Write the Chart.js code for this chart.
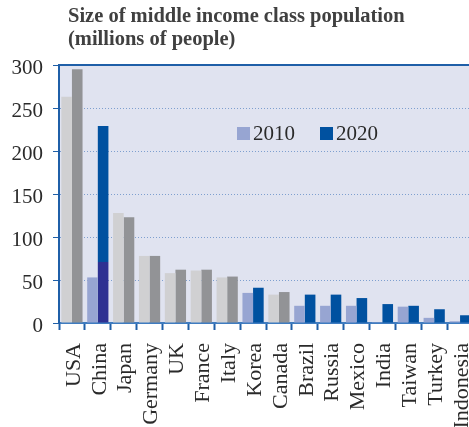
<!DOCTYPE html>
<html>
<head>
<meta charset="utf-8">
<script src="https://cdn.jsdelivr.net/npm/chart.js@4/dist/chart.umd.min.js"></script>
<style>
  html, body { margin: 0; padding: 0; background: #fff; overflow: hidden; }
  #wrap { width: 473px; height: 427px; }
</style>
</head>
<body>
<div id="wrap"><canvas id="chartMiddleClass"></canvas></div>
<script>
var countries = ['USA', 'China', 'Japan', 'Germany', 'UK', 'France', 'Italy', 'Korea',
    'Canada', 'Brazil', 'Russia', 'Mexico', 'India', 'Taiwan', 'Turkey', 'Indonesia'];
var values2010 = [263, 53, 128, 78, 58, 61, 53, 35, 33, 20, 20, 20, 1, 19, 6, 2];
var values2020 = [295, 229, 123, 78, 62, 62, 54, 41, 36, 33, 33, 29, 22, 20, 16, 9];
// lower part of China's 2020 bar is shaded darker in the source
var highlight2020 = [0, 71, 0, 0, 0, 0, 0, 0, 0, 0, 0, 0, 0, 0, 0, 0];
var advanced = ['USA', 'Japan', 'Germany', 'UK', 'France', 'Italy', 'Canada'];
var yTicks = [0, 50, 100, 150, 200, 250, 300];

var serif = '"Liberation Serif", "DejaVu Serif", serif';

function color2010(ctx) {
    return advanced.indexOf(countries[ctx.dataIndex]) >= 0 ? '#d0d0d2' : '#97a5d2';
}
function color2020(ctx) {
    return advanced.indexOf(countries[ctx.dataIndex]) >= 0 ? '#929396' : '#0051a0';
}

var extrasPlugin = {
    id: 'extras',
    beforeDraw: function (chart) {
        var a = chart.chartArea, c = chart.ctx;
        c.save();
        c.fillStyle = '#e0e3f0';
        c.fillRect(a.left, a.top, a.right - a.left, a.bottom - a.top);
        c.restore();
    },
    afterDraw: function (chart) {
        var a = chart.chartArea, c = chart.ctx;
        c.save();
        // top frame line
        c.strokeStyle = '#1f5fa8';
        c.lineWidth = 2;
        c.beginPath();
        c.moveTo(a.left, a.top);
        c.lineTo(a.right, a.top);
        c.stroke();
        // title
        c.fillStyle = '#404040';
        c.font = 'bold 20.5px ' + serif;
        c.textBaseline = 'alphabetic';
        c.textAlign = 'left';
        c.fillText('Size of middle income class population', 68, 22);
        c.fillText('(millions of people)', 68, 45);
        // legend
        var items = [['2010', '#97a5d2', 237], ['2020', '#0051a0', 320]];
        c.font = '21px ' + serif;
        items.forEach(function (it) {
            c.fillStyle = it[1];
            c.fillRect(it[2], 127, 13, 13);
            c.fillStyle = '#2a2a2a';
            c.fillText(it[0], it[2] + 16, 140);
        });
        c.restore();
    }
};

var upper2020 = values2020.map(function (v, i) { return v - highlight2020[i]; });

new Chart(document.getElementById('chartMiddleClass'), {
    type: 'bar',
    data: {
        labels: countries,
        datasets: [{
            label: '2010',
            data: values2010,
            backgroundColor: color2010,
            stack: 's2010'
        }, {
            label: '2020 (lower)',
            data: highlight2020,
            backgroundColor: '#2e3192',
            stack: 's2020'
        }, {
            label: '2020',
            data: upper2020,
            backgroundColor: color2020,
            stack: 's2020'
        }]
    },
    options: {
        responsive: true,
        maintainAspectRatio: false,
        animation: false,
        layout: { padding: { top: 65, right: 0, left: 0, bottom: 0 } },
        datasets: { bar: { categoryPercentage: 0.82, barPercentage: 1.0, borderWidth: 0 } },
        plugins: {
            legend: { display: false },
            tooltip: { enabled: false }
        },
        scales: {
            x: {
                stacked: true,
                grid: {
                    offset: true,
                    drawOnChartArea: false,
                    drawTicks: true,
                    tickLength: 7,
                    tickWidth: 2,
                    tickColor: '#1f5fa8'
                },
                border: { display: true, color: '#3f7cc0', width: 2 },
                ticks: {
                    color: '#2a2a2a',
                    font: { family: serif, size: 22 },
                    minRotation: 90,
                    maxRotation: 90,
                    autoSkip: false,
                    padding: 13,
                    labelOffset: 2
                },
                afterFit: function (scale) {
                    scale.height = 104;
                    scale.paddingLeft = 0;
                    scale.paddingRight = 0;
                }
            },
            y: {
                stacked: true,
                min: 0,
                max: 300,
                afterBuildTicks: function (scale) {
                    scale.ticks = yTicks.map(function (v) { return { value: v }; });
                },
                grid: {
                    color: function (ctx) {
                        var v = ctx.tick && ctx.tick.value;
                        return (v === 0 || v === 300) ? 'rgba(0,0,0,0)' : '#7e9fcf';
                    },
                    lineWidth: 1,
                    drawTicks: true,
                    tickLength: 6,
                    tickColor: '#1f5fa8'
                },
                border: { display: true, color: '#1f5fa8', width: 2, dash: [1, 2] },
                ticks: {
                    color: '#2a2a2a',
                    font: { family: serif, size: 21 },
                    padding: 10,
                    labelOffset: 3
                },
                afterFit: function (scale) {
                    scale.width = 59;
                    scale.paddingTop = 0;
                    scale.paddingBottom = 0;
                }
            }
        }
    },
    plugins: [extrasPlugin]
});
</script>
</body>
</html>
